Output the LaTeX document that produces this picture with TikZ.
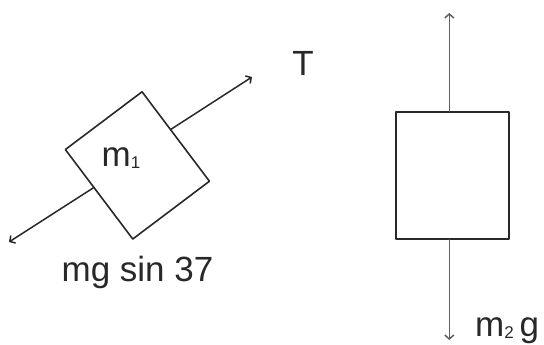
\documentclass[tikz,border=0pt]{standalone}
\usepackage{fontspec}
\setmainfont{Liberation Sans}
\usepackage{tikz}
\usetikzlibrary{calc, positioning, arrows.meta}
\definecolor{inkgray}{RGB}{40, 40, 40}
\definecolor{lightink}{RGB}{95, 95, 95}
\newcommand{\lowidx}[1]{{\fontsize{17}{17}\selectfont\raisebox{-2pt}{#1}}}

\begin{document}
\begin{tikzpicture}[x=1pt, y=-1pt, line join=round, line cap=round,
    >={Straight Barb[length=4pt, width=9pt]},
    block/.style={draw=inkgray, fill=white, line width=1.6pt, inner sep=0pt},
    force/.style={->, line width=1.5pt},
    lab/.style={text=inkgray, font=\fontsize{35}{40}\selectfont, inner sep=0pt}]
    \useasboundingbox (0,0) rectangle (544,345);

    % Khối m1 trên mặt phẳng nghiêng
    \node[block, rotate=37, minimum width=96pt, minimum height=112pt] (m1) at (137.4,165.4) {};
    \node[lab, anchor=base] (m1name) at (121,166) {m\lowidx{1}};

    % Lực căng T và thành phần trọng lực
    \coordinate (Ttip) at (252,77);
    \coordinate (Ptip) at (9,242);
    \draw[force, inkgray] (m1.10) -- (Ttip);
    \draw[force, inkgray] (m1.170) -- (Ptip);
    \node[lab] (Tlab) at (303,63) {T};
    \node[lab, anchor=base] (Plab) at (137.5,281.7) {mg sin 37};

    % Khối m2 treo thẳng đứng
    \node[block, minimum width=113pt, minimum height=127pt] (m2) at (452.7,175.5) {};
    \coordinate (uptip) at (449.3,13);
    \coordinate (downtip) at (449.3,340);
    \draw[force, lightink] (m2.north -| uptip) -- (uptip);
    \draw[force, lightink] (m2.south -| downtip) -- (downtip);
    \node[lab, anchor=base west] (m2lab) at (475,336) {m\lowidx{2}\,g};
\end{tikzpicture}
\end{document}
